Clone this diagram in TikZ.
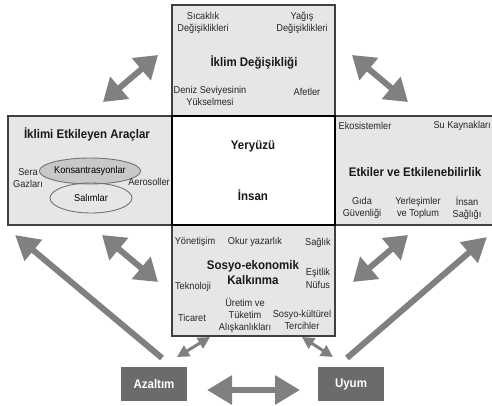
\documentclass[tikz,border=0pt]{standalone}
\usepackage{fontspec}
\setmainfont[FakeStretch=0.92]{Liberation Sans}
\usetikzlibrary{arrows.meta, positioning, shapes.geometric}
\usepackage{xcolor}
\definecolor{panelgray}{HTML}{E6E6E6}
\definecolor{ovalgray}{HTML}{C8C8C8}
\definecolor{arrowgray}{HTML}{808080}
\definecolor{actiongray}{HTML}{6B6B6B}

\begin{document}
\begin{tikzpicture}[x=1pt, y=-1pt,
		panel/.style={draw=black!75, fill=panelgray, line width=1.3pt, inner sep=0pt},
		txt/.style={font=\fontsize{10}{12}\selectfont, text=black!85, align=center, inner sep=0pt},
		heading/.style={font=\fontsize{12.5}{15}\selectfont\bfseries, text=black!90, align=center, inner sep=0pt},
		oval/.style={ellipse, draw=black!55, line width=0.9pt, minimum width=82pt, inner sep=0pt, font=\fontsize{10}{12}\selectfont},
		action/.style={fill=actiongray, text=white, minimum width=66pt, minimum height=34pt, font=\fontsize{12.5}{15}\selectfont\bfseries},
		bigarrow/.style={draw=arrowgray, line width=6pt, arrows={Triangle[length=22pt, width=28pt, fill=arrowgray]-Triangle[length=22pt, width=28pt, fill=arrowgray]}},
		longarrow/.style={draw=arrowgray, line width=6pt, -{Triangle[length=24pt, width=26pt, fill=arrowgray]}},
		smallarrow/.style={draw=arrowgray, line width=3pt, arrows={Triangle[length=12pt, width=12pt, fill=arrowgray]-Triangle[length=12pt, width=12pt, fill=arrowgray]}}]
		\useasboundingbox (0,0) rectangle (492,405);

		% the four outer panels
		\node[panel, minimum width=163pt, minimum height=111pt] (iklim) at (253.5,60.5) {};
		\node[panel, minimum width=164pt, minimum height=109pt] (araclar) at (90,170.5) {};
		\node[panel, minimum width=162pt, minimum height=109pt] (etkiler) at (416,170.5) {};
		\node[panel, minimum width=163pt, minimum height=111pt] (kalkinma) at (253.5,280.5) {};
		\node[draw=black, fill=white, line width=1.3pt, minimum width=163pt, minimum height=109pt] (yeryuzu) at (253.5,170.5) {};

		% top panel
		\node[txt] (sicaklik) at (203,23) {Sıcaklık\\Değişiklikleri};
		\node[txt] (yagis) at (302,23) {Yağış\\Değişiklikleri};
		\node[heading] (iklimT) at (254,62) {İklim Değişikliği};
		\node[txt] (deniz) at (210,96) {Deniz Seviyesinin\\Yükselmesi};
		\node[txt] (afet) at (307,92) {Afetler};

		% left panel
		\node[heading] (araclarT) at (87,134) {İklimi Etkileyen Araçlar};
		\node[oval, fill=ovalgray, minimum height=26pt] (kons) at (90,171) {Konsantrasyonlar};
		\node[oval, minimum height=30pt] (salim) at (91,198) {Salımlar};
		\node[txt] (sera) at (28,178) {Sera\\Gazları};
		\node[txt] (aero) at (149,182) {Aerosoller};

		% centre
		\node[heading] (yer) at (253,146) {Yeryüzü};
		\node[heading] (insan) at (253,195) {İnsan};

		% right panel
		\node[txt] (eko) at (365,126) {Ekosistemler};
		\node[txt, anchor=east] (su) at (491,126) {Su Kaynakları};
		\node[heading] (etkilerT) at (415,172) {Etkiler ve Etkilenebilirlik};
		\node[txt] (gida) at (362,208) {Gıda\\Güvenliği};
		\node[txt] (yerlesim) at (418,208) {Yerleşimler\\ve Toplum};
		\node[txt] (saglikI) at (467,208) {İnsan\\Sağlığı};

		% bottom panel
		\node[txt] (yonetisim) at (195,242) {Yönetişim};
		\node[txt] (okur) at (255,242) {Okur yazarlık};
		\node[txt] (saglik) at (318,243) {Sağlık};
		\node[heading] (kalkinmaT) at (253,273) {Sosyo-ekonomik\\Kalkınma};
		\node[txt] (esitlik) at (318,273) {Eşitlik};
		\node[txt] (teknoloji) at (193,287) {Teknoloji};
		\node[txt] (nufus) at (318,285) {Nüfus};
		\node[txt] (uretim) at (245,315) {Üretim ve\\Tüketim\\Alışkanlıkları};
		\node[txt] (kultur) at (302,320) {Sosyo-kültürel\\Tercihler};
		\node[txt] (ticaret) at (192,318) {Ticaret};

		% responses
		\node[action] (azaltim) at (154,384) {Azaltım};
		\node[action] (uyum) at (351,384) {Uyum};

		% arrow ends
		\coordinate (ul1) at (103,102); \coordinate (ul2) at (158,55);
		\coordinate (ur1) at (352,55);  \coordinate (ur2) at (408,102);
		\coordinate (ll1) at (102,235); \coordinate (ll2) at (158,282);
		\coordinate (lr1) at (408,235); \coordinate (lr2) at (353,282);
		\coordinate (az1) at (162,358); \coordinate (az2) at (15,235);
		\coordinate (uy1) at (347,358); \coordinate (uy2) at (487,237);
		\coordinate (sa1) at (177,357); \coordinate (sa2) at (210,337);
		\coordinate (sb1) at (302,337); \coordinate (sb2) at (333,357);
		\coordinate (h1) at (207,390);  \coordinate (h2) at (300,390);

		\draw[bigarrow] (ul1) -- (ul2);
		\draw[bigarrow] (ur1) -- (ur2);
		\draw[bigarrow] (ll1) -- (ll2);
		\draw[bigarrow] (lr1) -- (lr2);
		\draw[longarrow] (az1) -- (az2);
		\draw[longarrow] (uy1) -- (uy2);
		\draw[smallarrow] (sa1) -- (sa2);
		\draw[smallarrow] (sb1) -- (sb2);
		\draw[draw=arrowgray, line width=6pt, arrows={Triangle[length=25pt, width=28pt, fill=arrowgray]-Triangle[length=25pt, width=28pt, fill=arrowgray]}] (h1) -- (h2);
	\end{tikzpicture}
\end{document}
